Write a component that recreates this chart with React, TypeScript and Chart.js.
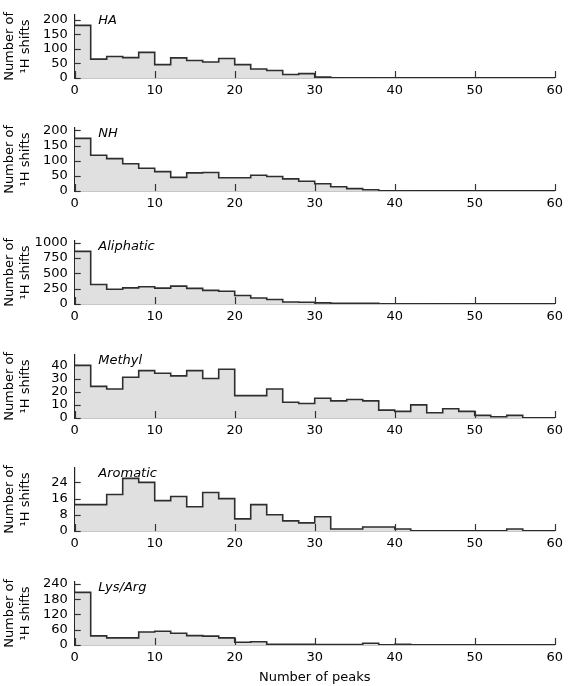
import React, { useEffect, useRef } from 'react';
import { Chart, registerables } from 'chart.js';

Chart.register(...registerables);

// Histogram bins (left edges), width 2 peaks, 0..60
const binStarts = [0, 2, 4, 6, 8, 10, 12, 14, 16, 18, 20, 22, 24, 26, 28, 30, 32, 34, 36, 38, 40, 42, 44, 46, 48, 50, 52, 54, 56, 58];
const binEnd = 60;
const xTickValues = [0, 10, 20, 30, 40, 50, 60];

const panelTitles = ['HA', 'NH', 'Aliphatic', 'Methyl', 'Aromatic', 'Lys/Arg'];

const haCounts = [181, 65, 74, 70, 88, 46, 69, 60, 55, 67, 46, 31, 26, 12, 15, 3, 0, 1, 0, 1, 0, 0, 0, 0, 0, 0, 0, 0, 0, 0];
const nhCounts = [174, 118, 107, 90, 75, 64, 45, 60, 61, 44, 44, 52, 48, 40, 32, 24, 14, 8, 4, 0, 1, 0, 0, 0, 0, 0, 0, 0, 0, 0];
const aliphaticCounts = [861, 319, 241, 264, 282, 259, 292, 255, 222, 208, 139, 97, 74, 32, 28, 18, 10, 10, 10, 3, 5, 5, 1, 3, 1, 0, 0, 0, 0, 0];
const methylCounts = [40, 24, 22, 31, 36, 34, 32, 36, 30, 37, 17, 17, 22, 12, 11, 15, 13, 14, 13, 6, 5, 10, 4, 7, 5, 2, 1, 2, 0, 0];
const aromaticCounts = [13, 13, 18, 26, 24, 15, 17, 12, 19, 16, 6, 13, 8, 5, 4, 7, 1, 1, 2, 2, 1, 0, 0, 0, 0, 0, 0, 1, 0, 0];
const lysArgCounts = [207, 36, 28, 28, 51, 54, 46, 37, 35, 28, 11, 13, 3, 3, 3, 2, 2, 2, 7, 1, 3, 1, 1, 1, 1, 0, 0, 1, 1, 0];

const allCounts = [haCounts, nhCounts, aliphaticCounts, methylCounts, aromaticCounts, lysArgCounts];

const haYTicks = [0, 50, 100, 150, 200];
const nhYTicks = [0, 50, 100, 150, 200];
const aliphaticYTicks = [0, 250, 500, 750, 1000];
const methylYTicks = [0, 10, 20, 30, 40];
const aromaticYTicks = [0, 8, 16, 24];
const lysArgYTicks = [0, 60, 120, 180, 240];
const allYTicks = [haYTicks, nhYTicks, aliphaticYTicks, methylYTicks, aromaticYTicks, lysArgYTicks];

const yTitle = ['Number of', '\u00B9H shifts'];
const xTitle = 'Number of peaks';

const FONT = '"DejaVu Sans", "Noto Sans", sans-serif';

// layout
const zeroLines = [78, 191, 304, 418, 531, 645];
const PAGE_H = 686;
const PLOT_H = 75;
const TOP_PAD = 3;

const innerTicks = {
  id: 'innerTicks',
  afterDraw(chart: any, _args: any, opts: any) {
    const { ctx, chartArea, scales } = chart;
    ctx.save();
    ctx.strokeStyle = '#333';
    ctx.lineWidth = 1.2;
    const xs = scales.x;
    xs.ticks.forEach((t: any) => {
      const px = Math.round(xs.getPixelForValue(t.value)) + 0.5;
      ctx.beginPath();
      ctx.moveTo(px, chartArea.bottom);
      ctx.lineTo(px, chartArea.bottom - 7);
      ctx.stroke();
    });
    const ys = scales.y;
    ys.ticks.forEach((t: any) => {
      const py = Math.round(ys.getPixelForValue(t.value)) + 0.5;
      ctx.beginPath();
      ctx.moveTo(chartArea.left, py);
      ctx.lineTo(chartArea.left + 6, py);
      ctx.stroke();
    });
    ctx.font = `italic 13px ${FONT}`;
    ctx.fillStyle = '#000';
    ctx.textBaseline = 'alphabetic';
    ctx.textAlign = 'left';
    ctx.fillText(opts.title, chartArea.left + 23.6, chartArea.top + 9);
    ctx.restore();
  },
};

function Panel({ index }: { index: number }) {
  const ref = useRef<HTMLCanvasElement | null>(null);
  const top = zeroLines[index] - PLOT_H - TOP_PAD;
  const isLast = index === zeroLines.length - 1;
  const nextTop = isLast ? PAGE_H : zeroLines[index + 1] - PLOT_H - TOP_PAD;
  const height = nextTop - top;
  const xAxisH = height - PLOT_H - TOP_PAD;

  useEffect(() => {
    const counts = allCounts[index];
    const yTicks = allYTicks[index];
    const points = binStarts.map((x, i) => ({ x, y: counts[i] }));
    points.push({ x: binEnd, y: counts[counts.length - 1] });
    const yMax = Math.max(...counts) * 1.2;

    const chart = new Chart(ref.current as HTMLCanvasElement, {
      type: 'line',
      data: {
        datasets: [
          {
            data: points,
            stepped: 'before',
            fill: 'origin',
            backgroundColor: '#e0e0e0',
            borderColor: '#2e2e2e',
            borderWidth: 1.6,
            pointRadius: 0,
            tension: 0,
          } as any,
        ],
      },
      options: {
        animation: false,
        responsive: false,
        maintainAspectRatio: false,
        layout: { padding: { top: TOP_PAD, right: 9.3, left: 0, bottom: 0 } },
        plugins: {
          legend: { display: false },
          tooltip: { enabled: false },
          innerTicks: { title: panelTitles[index] },
        } as any,
        scales: {
          x: {
            type: 'linear',
            min: 0,
            max: binEnd,
            afterBuildTicks: (s: any) => {
              s.ticks = xTickValues.map((v) => ({ value: v }));
            },
            ticks: {
              color: '#000',
              font: { family: FONT, size: 13 },
              padding: 5,
              maxRotation: 0,
              autoSkip: false,
              callback: (v: any) => String(v),
            },
            grid: { display: false, drawTicks: false },
            border: { color: '#222', width: 1.2 },
            title: {
              display: isLast,
              text: xTitle,
              color: '#000',
              font: { family: FONT, size: 13 },
              padding: { top: 0, bottom: 1 },
            },
            afterFit: (s: any) => {
              s.height = xAxisH;
            },
          },
          y: {
            type: 'linear',
            min: 0,
            max: yMax,
            afterBuildTicks: (s: any) => {
              s.ticks = yTicks.map((v) => ({ value: v }));
            },
            ticks: {
              color: '#000',
              font: { family: FONT, size: 13 },
              padding: 7,
              autoSkip: false,
              callback: (v: any) => String(v),
            },
            grid: { display: false, drawTicks: false },
            border: { color: '#222', width: 1.2 },
            title: {
              display: true,
              text: yTitle,
              color: '#000',
              font: { family: FONT, size: 13, lineHeight: 1.25 },
              padding: { top: 1, bottom: 0 },
            },
            afterFit: (s: any) => {
              s.width = 74.7;
            },
          },
        } as any,
      },
      plugins: [innerTicks as any],
    });
    return () => chart.destroy();
  }, [index, xAxisH]);

  return (
    <canvas
      ref={ref}
      width={568}
      height={height}
      style={{ position: 'absolute', left: 0, top, width: 568, height, display: 'block' }}
    />
  );
}

export default function App() {
  return (
    <div style={{ position: 'absolute', left: 0, top: 0, width: 568, height: PAGE_H, background: '#fff' }}>
      {panelTitles.map((_, i) => (
        <Panel key={i} index={i} />
      ))}
    </div>
  );
}
